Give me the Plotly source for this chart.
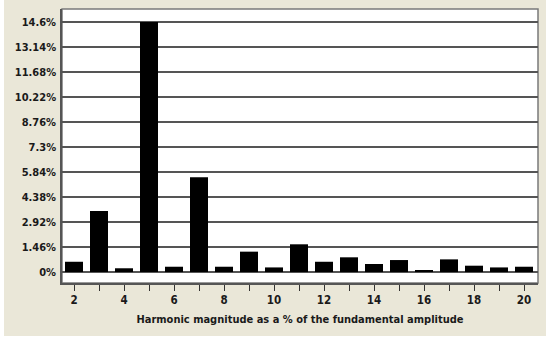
import plotly.graph_objects as go

harmonics = list(range(2, 21))
magnitude_pct = [0.60, 3.56, 0.22, 14.6, 0.31, 5.53, 0.31, 1.19, 0.27, 1.62,
                 0.60, 0.86, 0.47, 0.70, 0.12, 0.74, 0.37, 0.27, 0.31]
y_tick_vals = [0, 1.46, 2.92, 4.38, 5.84, 7.3, 8.76, 10.22, 11.68, 13.14, 14.6]
y_tick_text = ["0%", "1.46%", "2.92%", "4.38%", "5.84%", "7.3%", "8.76%",
               "10.22%", "11.68%", "13.14%", "14.6%"]
x_tick_vals = list(range(2, 21))
x_tick_text = [str(h) if h % 2 == 0 else "" for h in x_tick_vals]

FONT = "DejaVu Sans Condensed, Liberation Sans Narrow, Arial Narrow, sans-serif"
TXT = "#1a1a1a"

fig = go.Figure(go.Bar(x=harmonics, y=magnitude_pct, width=0.72,
                       marker=dict(color="black", line=dict(width=0))))

fig.update_layout(
    width=550, height=341,
    margin=dict(l=62, r=12, t=9, b=58),
    paper_bgcolor="white", plot_bgcolor="white",
    showlegend=False,
    font=dict(family=FONT, size=11, color=TXT),
    shapes=[
        dict(type="rect", xref="paper", yref="paper", x0=-0.1218, x1=1.0168,
             y0=-0.1934, y1=1.0328, fillcolor="#EAE7D8", line=dict(width=0),
             layer="below"),
        dict(type="rect", xref="paper", yref="paper", x0=0, x1=1, y0=0, y1=1,
             fillcolor="white", line=dict(color="#7a7a7a", width=1.5),
             layer="below"),
    ],
)
fig.update_xaxes(
    range=[1.52, 20.56], tickmode="array", tickvals=x_tick_vals,
    ticktext=["<b>%s</b>" % t if t else "" for t in x_tick_text],
    ticks="outside", ticklen=6, tickwidth=1.2, ticklabelstandoff=-1,
    tickcolor="#333", showgrid=False, showline=True, linecolor="#555",
    linewidth=1.5, tickfont=dict(family=FONT, size=11.5, color=TXT),
    title=dict(text="<b>Harmonic magnitude as a % of the fundamental amplitude</b>",
               font=dict(family=FONT, size=11, color=TXT), standoff=10),
    zeroline=False, automargin=False,
)
fig.update_yaxes(
    range=[-0.64, 15.36], tickmode="array", tickvals=y_tick_vals,
    ticktext=["<b>%s</b>" % t for t in y_tick_text],
    showgrid=True, gridcolor="#555", gridwidth=1.5, showline=True,
    linecolor="#555", linewidth=1.5, ticks="", ticklabelstandoff=2,
    tickfont=dict(family=FONT, size=11, color=TXT), zeroline=False,
    automargin=False,
)

fig.write_html("out.html", config={"displayModeBar": False},
               post_script="document.body.style.margin='0px';")
